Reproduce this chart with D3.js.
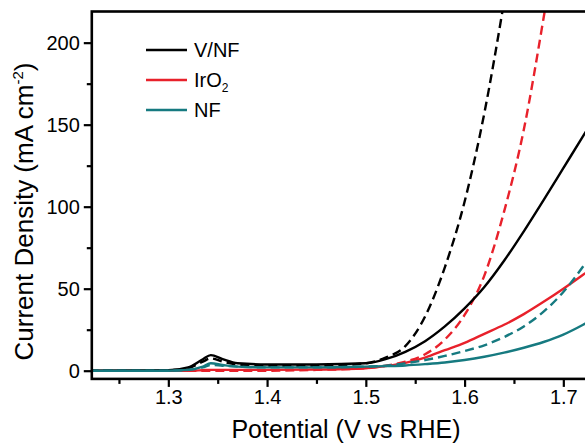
<!DOCTYPE html>
<html>
<head>
<meta charset="utf-8">
<script src="https://cdn.jsdelivr.net/npm/d3@7"></script>
<style>
  html, body { margin: 0; padding: 0; background: #fff; overflow: hidden; }
  svg { display: block; font-family: Arial, "Liberation Sans", Helvetica, sans-serif; }
</style>
</head>
<body>
<svg id="chart" width="585" height="445"></svg>
<script>
// ---- data ----
const potential = [1.22, 1.30, 1.32, 1.335, 1.343, 1.355, 1.37, 1.40, 1.45, 1.50, 1.52, 1.54, 1.56, 1.58, 1.60, 1.62, 1.64, 1.66, 1.68, 1.70, 1.72, 1.74];

const vnfSolid  = [0, 0.3, 2, 7, 9.5, 7, 4.5, 3.8, 3.8, 4.5, 7, 11.5, 18, 27, 38, 51, 67, 85, 104, 123.5, 143, 163];
const vnfDashed = [0, 0.3, 1.5, 5.5, 7.5, 5.5, 3.8, 3, 3, 4.5, 8, 15, 33, 63, 103, 157, 225, null, null, null, null, null];
const iroSolid  = [0, 0, 0, 0.3, 0.5, 0.5, 0.5, 0.5, 0.7, 1.5, 2.8, 4.8, 8, 12.5, 17, 22.5, 28, 34.5, 42, 50, 58.5, 67];
const iroDashed = [0, 0, 0, 0, 0, 0, 0, 0, 0.5, 1.5, 3, 5.5, 10, 19, 34, 58, 97, 147, 215, 290, null, null];
const nfSolid   = [0, 0, 0.5, 2.5, 4.5, 3.5, 2.5, 2, 2, 2.5, 2.8, 3.2, 4, 5, 6.5, 8.5, 11, 14, 17.5, 22, 28, 35];
const nfDashed  = [0, 0, 0.5, 2, 3.5, 3, 2.5, 2, 2, 2.5, 3, 4.5, 6.5, 9, 12, 15.5, 20.5, 27, 36, 48, 63.5, 81];

const legendLabels = ["V/NF", "IrO2", "NF"];
const xTicks = [1.3, 1.4, 1.5, 1.6, 1.7];
const xMinorTicks = [1.25, 1.35, 1.45, 1.55, 1.65, 1.75];
const yTicks = [0, 50, 100, 150, 200];
const yMinorTicks = [25, 75, 125, 175];

const colors = { vnf: "#000000", iro: "#e8212b", nf: "#167a80" };

// ---- scales ----
const svg = d3.select("#chart");
const x = d3.scaleLinear().domain([1.2225, 1.75]).range([91.8, 612.7]);
const y = d3.scaleLinear().domain([-5, 219]).range([378.9, 11.5]);

svg.append("defs").append("clipPath").attr("id", "plotclip")
  .append("rect")
  .attr("x", x(1.2225)).attr("y", y(219))
  .attr("width", x(1.75) - x(1.2225)).attr("height", y(-5) - y(219));

// ---- axes ----
const fontSize = 20;
const xAxis = svg.append("g").attr("transform", `translate(0,${y(-5)})`)
  .call(d3.axisBottom(x).tickValues(xTicks).tickFormat(d3.format(".1f")).tickSize(8).tickSizeOuter(0).tickPadding(3));
const xMinor = svg.append("g").attr("transform", `translate(0,${y(-5)})`)
  .call(d3.axisBottom(x).tickValues(xMinorTicks).tickFormat("").tickSize(5).tickSizeOuter(0));
const yAxis = svg.append("g").attr("transform", `translate(${x(1.2225)},0)`)
  .call(d3.axisLeft(y).tickValues(yTicks).tickFormat(d3.format("d")).tickSize(8).tickSizeOuter(0).tickPadding(4));
const yMinor = svg.append("g").attr("transform", `translate(${x(1.2225)},0)`)
  .call(d3.axisLeft(y).tickValues(yMinorTicks).tickFormat("").tickSize(5).tickSizeOuter(0));

[xAxis, xMinor, yAxis, yMinor].forEach(g => {
  g.select(".domain").remove();
  g.selectAll(".tick line").attr("stroke", "#000").attr("stroke-width", 2.2);
  g.selectAll(".tick text").attr("fill", "#000").style("font-size", fontSize + "px")
    .style("font-family", "Arial, 'Liberation Sans', sans-serif");
});

// ---- curves ----
const seriesList = [
  { vals: iroDashed, color: colors.iro, dash: "9,5" },
  { vals: iroSolid,  color: colors.iro, dash: null },
  { vals: vnfDashed, color: colors.vnf, dash: "9,5" },
  { vals: vnfSolid,  color: colors.vnf, dash: null },
  { vals: nfDashed,  color: colors.nf,  dash: "9,5" },
  { vals: nfSolid,   color: colors.nf,  dash: null }
];

const line = d3.line()
  .defined(d => d[1] !== null)
  .x(d => x(d[0]))
  .y(d => y(d[1]))
  .curve(d3.curveMonotoneX);

const plot = svg.append("g").attr("clip-path", "url(#plotclip)");
seriesList.forEach(s => {
  const pts = potential.map((p, i) => [p, s.vals[i]]);
  plot.append("path")
    .datum(pts)
    .attr("d", line)
    .attr("fill", "none")
    .attr("stroke", s.color)
    .attr("stroke-width", 2.4)
    .attr("stroke-dasharray", s.dash);
});

// ---- frame ----
svg.append("rect")
  .attr("x", x(1.2225)).attr("y", y(219))
  .attr("width", x(1.75) - x(1.2225)).attr("height", y(-5) - y(219))
  .attr("fill", "none").attr("stroke", "#000").attr("stroke-width", 2.6);

// ---- axis titles ----
svg.append("text")
  .attr("x", 346).attr("y", 438)
  .attr("text-anchor", "middle")
  .style("font-size", "25px")
  .text("Potential (V vs RHE)");

const yt = svg.append("text")
  .attr("transform", "translate(33,211.5) rotate(-90)")
  .attr("text-anchor", "middle")
  .style("font-size", "26px");
yt.append("tspan").text("Current Density (mA cm");
yt.append("tspan").attr("dy", -10).style("font-size", "15px").text("-2");
yt.append("tspan").attr("dy", 10).text(")");

// ---- legend ----
const legColors = [colors.vnf, colors.iro, colors.nf];
const legY = [50, 80, 110];
legendLabels.forEach((lab, i) => {
  svg.append("line")
    .attr("x1", 146).attr("x2", 187)
    .attr("y1", legY[i]).attr("y2", legY[i])
    .attr("stroke", legColors[i]).attr("stroke-width", 2.4);
  const t = svg.append("text")
    .attr("x", 194).attr("y", legY[i]).attr("dy", "0.36em")
    .style("font-size", "20px");
  if (lab === "IrO2") {
    t.append("tspan").text("IrO");
    t.append("tspan").attr("dy", 5).style("font-size", "12px").text("2");
  } else {
    t.text(lab);
  }
});
</script>
</body>
</html>
